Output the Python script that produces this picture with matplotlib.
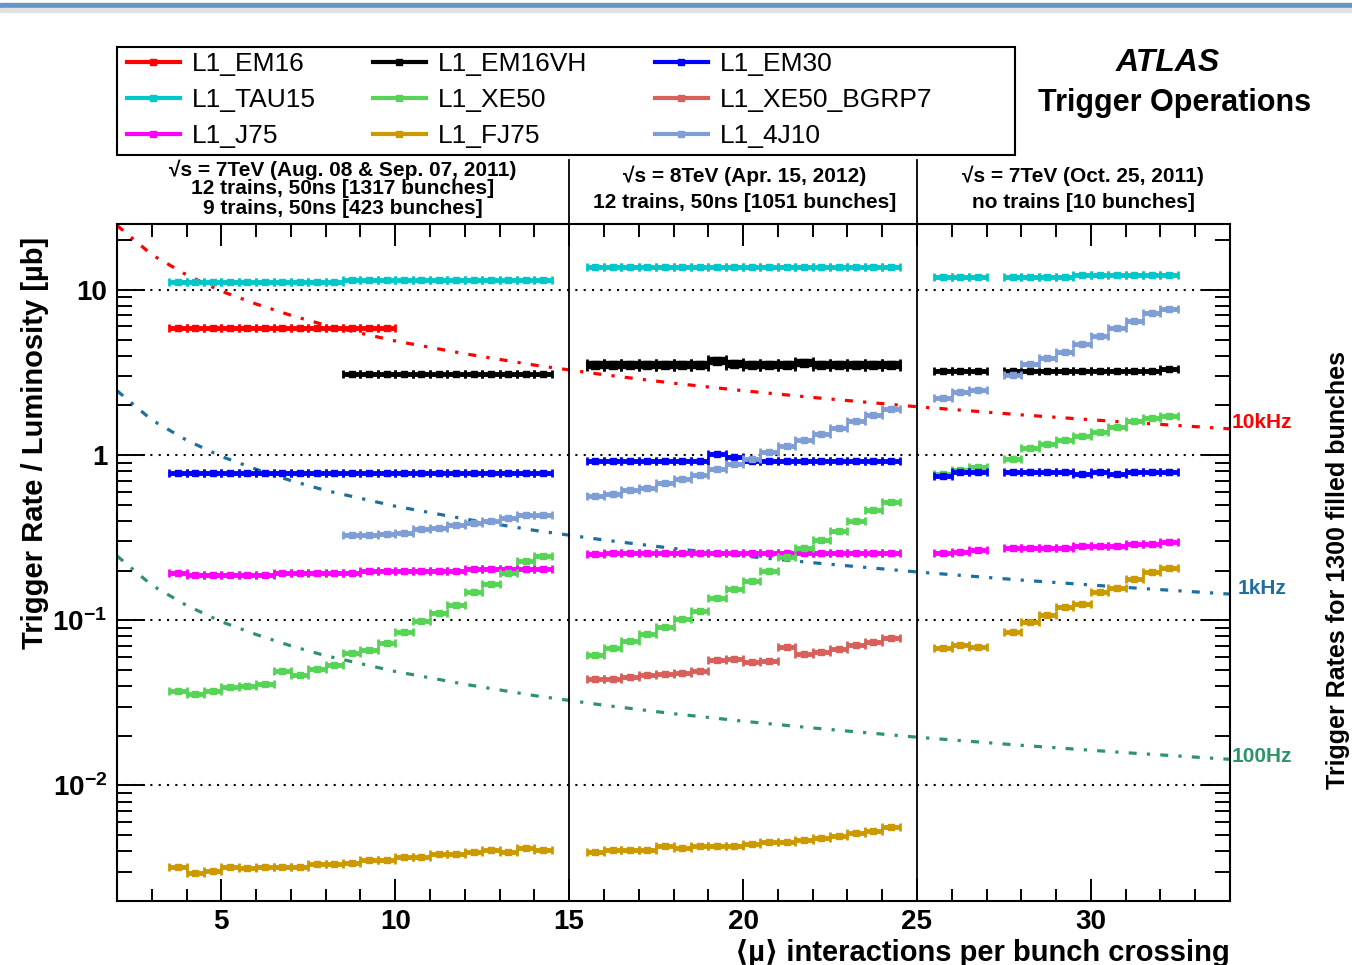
import numpy as np
import matplotlib.pyplot as plt
from matplotlib.lines import Line2D
from matplotlib.patches import Rectangle
from matplotlib.ticker import FixedLocator, FixedFormatter, LogLocator, MultipleLocator, NullFormatter

plt.rcParams['font.family'] = ['Liberation Sans', 'DejaVu Sans']
plt.rcParams['mathtext.fontset'] = 'custom'
plt.rcParams['mathtext.rm'] = 'Liberation Sans'
plt.rcParams['mathtext.bf'] = 'Liberation Sans:bold'

nan = np.nan

# <mu> bin centres (0.5 wide bins) for the three fills
mu_a = [3.75, 4.25, 4.75, 5.25, 5.75, 6.25, 6.75, 7.25, 7.75, 8.25, 8.75,
        9.25, 9.75, 10.25, 10.75, 11.25, 11.75, 12.25, 12.75, 13.25, 13.75, 14.25]
mu_b = [15.75, 16.25, 16.75, 17.25, 17.75, 18.25, 18.75, 19.25, 19.75,
        20.25, 20.75, 21.25, 21.75, 22.25, 22.75, 23.25, 23.75, 24.25]
mu_c = [25.75, 26.25, 26.75, 27.75, 28.25, 28.75, 29.25, 29.75, 30.25,
        30.75, 31.25, 31.75, 32.25]

# trigger rate / luminosity [ub] per fill
em16_a = [5.9, 5.9, 5.9, 5.9, 5.9, 5.9, 5.9, 5.9, 5.9, 5.85, 5.85, 5.9, 5.9] + [nan] * 9
em16_b = [nan] * 18
em16_c = [nan] * 13

em16vh_a = [nan] * 10 + [3.08] * 12
em16vh_b = [3.5, 3.5, 3.5, 3.5, 3.5, 3.5, 3.5, 3.72, 3.55, 3.5, 3.5, 3.5,
            3.6, 3.5, 3.5, 3.5, 3.5, 3.5]
em16vh_c = [3.22, 3.22, 3.22, 3.22, 3.22, 3.22, 3.22, 3.22, 3.22, 3.22, 3.22, 3.22, 3.3]

em30_a = [0.775] * 22
em30_b = [0.92, 0.92, 0.92, 0.92, 0.92, 0.92, 0.92, 1.02, 0.97, 0.92, 0.92,
          0.92, 0.92, 0.92, 0.92, 0.92, 0.92, 0.92]
em30_c = [0.75, 0.79, 0.79, 0.79, 0.79, 0.79, 0.79, 0.77, 0.79, 0.77, 0.79, 0.79, 0.79]

tau15_a = [11.2] * 10 + [11.5] * 12
tau15_b = [13.8] * 18
tau15_c = [11.9, 11.9, 11.9, 11.9, 11.9, 11.9, 11.9, 12.2, 12.2, 12.2, 12.2, 12.2, 12.2]

xe50_a = [0.0371, 0.0360, 0.0371, 0.0393, 0.0398, 0.0411, 0.0496, 0.0469, 0.0510,
          0.0539, 0.0634, 0.0664, 0.0728, 0.0849, 0.0986, 0.1107, 0.1245, 0.1485,
          0.166, 0.194, 0.228, 0.244]
xe50_b = [0.0620, 0.0680, 0.0746, 0.0830, 0.0910, 0.1023, 0.1145, 0.1365, 0.1535,
          0.1723, 0.198, 0.241, 0.274, 0.308, 0.346, 0.398, 0.462, 0.519]
xe50_c = [0.768, 0.811, 0.846, 0.952, 1.10, 1.166, 1.229, 1.31, 1.384, 1.476,
          1.607, 1.67, 1.734]

bgrp7_a = [nan] * 22
bgrp7_b = [0.0441, 0.0441, 0.0453, 0.0464, 0.0473, 0.0480, 0.0496, 0.0572, 0.0586,
           0.0559, 0.0570, 0.0686, 0.0625, 0.0643, 0.0674, 0.0712, 0.0738, 0.0781]
bgrp7_c = [nan] * 13

j75_a = [0.194, 0.188, 0.188, 0.188, 0.188, 0.188, 0.194, 0.194, 0.194, 0.194, 0.194,
         0.198, 0.198, 0.198, 0.198, 0.198, 0.198, 0.205, 0.205, 0.205, 0.205, 0.205]
j75_b = [0.25, 0.256, 0.256, 0.256, 0.256, 0.256, 0.256, 0.256, 0.256, 0.256, 0.256,
         0.256, 0.256, 0.256, 0.256, 0.256, 0.256, 0.256]
j75_c = [0.257, 0.26, 0.267, 0.274, 0.274, 0.274, 0.274, 0.281, 0.281, 0.281,
         0.289, 0.289, 0.297]

fj75_a = [0.00323, 0.00294, 0.00304, 0.00323, 0.00315, 0.00323, 0.00323, 0.00323,
          0.00334, 0.00334, 0.00341, 0.00355, 0.00355, 0.00371, 0.00371, 0.00384,
          0.00384, 0.00395, 0.00406, 0.00395, 0.00417, 0.00408]
fj75_b = [0.00395, 0.00408, 0.00408, 0.00408, 0.00431, 0.00421, 0.00431, 0.00431,
          0.00431, 0.00443, 0.00458, 0.00458, 0.00469, 0.00484, 0.00498, 0.00514,
          0.00531, 0.00559]
fj75_c = [0.0675, 0.0712, 0.0693, 0.0851, 0.0982, 0.107, 0.121, 0.125, 0.148,
          0.156, 0.177, 0.196, 0.208]

j4j10_a = [nan] * 10 + [0.326, 0.326, 0.333, 0.338, 0.355, 0.362, 0.376, 0.389,
                        0.398, 0.417, 0.433, 0.433]
j4j10_b = [0.565, 0.583, 0.616, 0.634, 0.674, 0.715, 0.753, 0.819, 0.878, 0.950,
           1.043, 1.134, 1.233, 1.346, 1.464, 1.607, 1.747, 1.909]
j4j10_c = [2.22, 2.42, 2.49, 3.05, 3.53, 3.86, 4.21, 4.67, 5.26, 5.85, 6.44, 7.25, 7.66]

# constant-rate reference curves (10kHz, 1kHz, 100Hz for 1300 bunches)
mu_ref = [2, 3, 4, 5, 6, 7, 8, 10, 12, 14, 16, 18, 20, 22, 25, 28, 31, 34]
ref_10khz = [24.5, 16.3, 12.3, 9.8, 8.2, 7.0, 6.1, 4.9, 4.1, 3.5, 3.06, 2.72,
             2.45, 2.23, 1.96, 1.75, 1.58, 1.44]
ref_1khz = [2.45, 1.63, 1.23, 0.98, 0.82, 0.70, 0.61, 0.49, 0.41, 0.35, 0.306,
            0.272, 0.245, 0.223, 0.196, 0.175, 0.158, 0.144]
ref_100hz = [0.245, 0.163, 0.123, 0.098, 0.082, 0.070, 0.061, 0.049, 0.041, 0.035,
             0.0306, 0.0272, 0.0245, 0.0223, 0.0196, 0.0175, 0.0158, 0.0144]

series = [
    ('L1_EM16', 'red', em16_a, em16_b, em16_c),
    ('L1_TAU15', '#00c8c8', tau15_a, tau15_b, tau15_c),
    ('L1_J75', '#ff00ff', j75_a, j75_b, j75_c),
    ('L1_EM16VH', 'black', em16vh_a, em16vh_b, em16vh_c),
    ('L1_XE50', '#55d455', xe50_a, xe50_b, xe50_c),
    ('L1_FJ75', '#cc9a00', fj75_a, fj75_b, fj75_c),
    ('L1_EM30', '#0000ff', em30_a, em30_b, em30_c),
    ('L1_XE50_BGRP7', '#d9605a', bgrp7_a, bgrp7_b, bgrp7_c),
    ('L1_4J10', '#7f9ed6', j4j10_a, j4j10_b, j4j10_c),
]

W, H = 1352, 965
fig = plt.figure(figsize=(W / 100, H / 100), dpi=100)
ax = fig.add_axes([117 / W, 1 - 901 / H, (1230 - 117) / W, (901 - 224) / H])

mu_all = mu_a + mu_b + mu_c
for name, col, a, b, c in series:
    ax.errorbar(mu_all, a + b + c, xerr=0.25, fmt='s', color=col, ms=5,
                elinewidth=3.5, capsize=3, capthick=2, zorder=3)
# 2012 EM16VH drawn thicker
ax.errorbar(mu_b, em16vh_b, xerr=0.25, fmt='s', color='black', ms=6,
            elinewidth=6, capsize=4, capthick=2, zorder=3)

dd = (0, (2.5, 3.2, 1, 3.2))
ax.plot(mu_ref, ref_10khz, color='red', lw=2.3, ls=dd, zorder=2, clip_on=False)
ax.plot(mu_ref, ref_1khz, color='#1c6f9e', lw=2.3, ls=dd, zorder=2)
ax.plot(mu_ref, ref_100hz, color='#2e9468', lw=2.3, ls=dd, zorder=2)

ax.set_xlim(2, 34)
ax.set_yscale('log')
ax.set_ylim(0.002, 25)

ax.xaxis.set_major_locator(FixedLocator([5, 10, 15, 20, 25, 30]))
ax.xaxis.set_minor_locator(MultipleLocator(1))
ax.yaxis.set_major_locator(FixedLocator([0.01, 0.1, 1, 10]))
ax.yaxis.set_major_formatter(FixedFormatter([r'$\mathbf{10^{-2}}$', r'$\mathbf{10^{-1}}$', '1', '10']))
ax.yaxis.set_minor_locator(LogLocator(base=10, subs=np.arange(2, 10)))
ax.yaxis.set_minor_formatter(NullFormatter())

ax.tick_params(which='both', direction='in', top=True, right=True, width=1.4)
ax.tick_params(axis='x', which='major', length=16, labelsize=20, pad=6)
ax.tick_params(axis='x', which='minor', length=9)
ax.tick_params(axis='y', which='major', length=20, labelsize=20, pad=7)
ax.tick_params(axis='y', which='minor', length=11)
for lab in ax.get_xticklabels() + ax.get_yticklabels():
    lab.set_fontweight('bold')
for s in ax.spines.values():
    s.set_linewidth(1.5)

ax.grid(axis='y', which='major', color='black', ls=(0, (1, 3)), lw=1.5, zorder=1)

# run separators extending above the frame
for xs in [15, 25]:
    ax.axvline(xs, ymin=0, ymax=1 + 64 / 677, color='black', lw=1.3, clip_on=False, zorder=4)

# run descriptions
fs = 15
fig.text(343 / W, 1 - 170 / H, '√s = 7TeV (Aug. 08 & Sep. 07, 2011)', ha='center', va='center', fontsize=fs, fontweight='bold')
fig.text(343 / W, 1 - 189 / H, '12 trains, 50ns [1317 bunches]', ha='center', va='center', fontsize=fs, fontweight='bold')
fig.text(343 / W, 1 - 209 / H, '9 trains, 50ns [423 bunches]', ha='center', va='center', fontsize=fs, fontweight='bold')
fig.text(745 / W, 1 - 176 / H, '√s = 8TeV (Apr. 15, 2012)', ha='center', va='center', fontsize=fs, fontweight='bold')
fig.text(745 / W, 1 - 202 / H, '12 trains, 50ns [1051 bunches]', ha='center', va='center', fontsize=fs, fontweight='bold')
fig.text(1083 / W, 1 - 176 / H, '√s = 7TeV (Oct. 25, 2011)', ha='center', va='center', fontsize=fs, fontweight='bold')
fig.text(1083 / W, 1 - 202 / H, 'no trains [10 bunches]', ha='center', va='center', fontsize=fs, fontweight='bold')

# rate labels
fig.text(1232 / W, 1 - 422 / H, '10kHz', color='red', ha='left', va='center', fontsize=15, fontweight='bold')
fig.text(1238 / W, 1 - 589 / H, '1kHz', color='#1c6f9e', ha='left', va='center', fontsize=15, fontweight='bold')
fig.text(1232 / W, 1 - 757 / H, '100Hz', color='#2e9468', ha='left', va='center', fontsize=15, fontweight='bold')

# axis titles
fig.text(35 / W, 1 - 443 / H, 'Trigger Rate / Luminosity [µb]', rotation=90, ha='center', va='center', fontsize=21, fontweight='bold')
fig.text(1338 / W, 1 - 570 / H, 'Trigger Rates for 1300 filled bunches', rotation=90, ha='center', va='center', fontsize=18, fontweight='bold')
fig.text(1230 / W, 1 - 953 / H, '⟨µ⟩ interactions per bunch crossing', ha='right', va='center', fontsize=21, fontweight='bold')

fig.text(1168 / W, 1 - 63 / H, 'ATLAS', ha='center', va='center', fontsize=23, fontweight='bold', fontstyle='italic')
fig.text(1175 / W, 1 - 103 / H, 'Trigger Operations', ha='center', va='center', fontsize=22, fontweight='bold')

# legend: frame plus three columns
fig.patches.append(Rectangle((117 / W, 1 - 155 / H), 898 / W, 108 / H, transform=fig.transFigure,
                             fill=False, edgecolor='black', lw=1.5))
cols_x = [127, 373, 655]
for k, cx in enumerate(cols_x):
    hs = [Line2D([], [], color=s[1], lw=3, marker='s', ms=5) for s in series[3 * k:3 * k + 3]]
    fig.legend(hs, [s[0] for s in series[3 * k:3 * k + 3]], loc='upper left',
               bbox_to_anchor=(cx / W, 1 - 52 / H), frameon=False, fontsize=19,
               borderpad=0, borderaxespad=0, handlelength=2.0, handletextpad=0.45,
               labelspacing=0.45)

# blue bar at the very top of the screenshot
fig.patches.append(Rectangle((0, 1 - 8 / H), 1, 5 / H, transform=fig.transFigure, color='#6496c8'))
fig.patches.append(Rectangle((0, 1 - 12 / H), 1, 4 / H, transform=fig.transFigure, color='#e2e2e2'))

fig.savefig('out.png', dpi=100)
